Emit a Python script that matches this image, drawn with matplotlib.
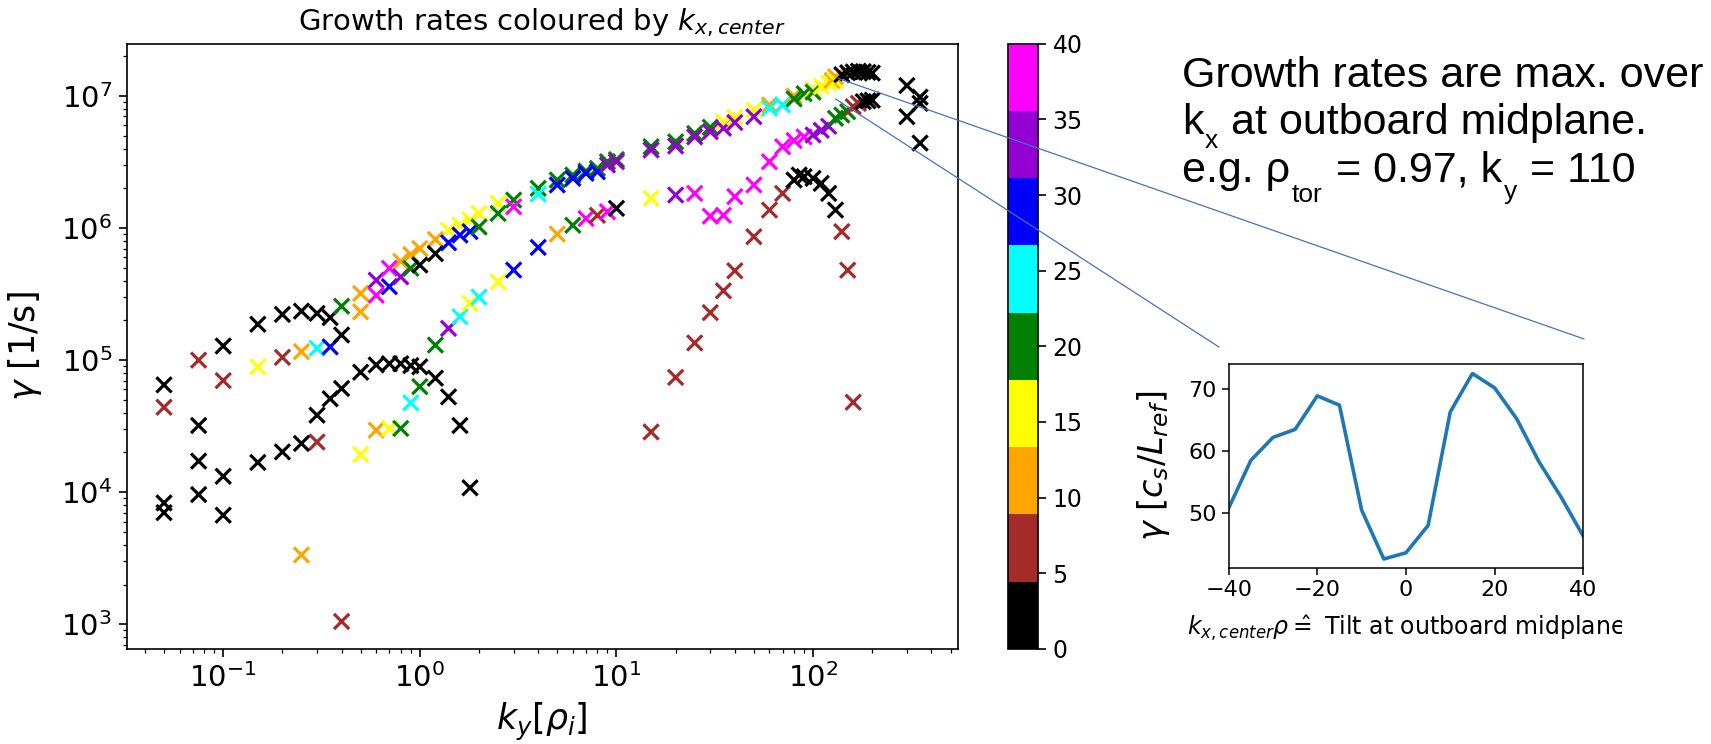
import numpy as np
import matplotlib.pyplot as plt
from matplotlib.colors import ListedColormap, Normalize
from matplotlib.patches import ConnectionPatch
from matplotlib.transforms import Bbox, TransformedBbox

# colour classes of kx_center, 0 ... 40 in steps of 5
kx_colours = ['black', 'brown', 'orange', 'yellow', 'green',
              'cyan', 'blue', 'darkviolet', 'magenta']
kx_ticks = [0, 5, 10, 15, 20, 25, 30, 35, 40]

# scattered modes at small ky
ky_left = [0.05, 0.05, 0.05, 0.05, 0.075, 0.075, 0.075, 0.075,
           0.1, 0.1, 0.1, 0.1, 0.15, 0.15, 0.2, 0.2, 0.25, 0.25, 0.25,
           0.3, 0.3, 0.3, 0.35, 0.35, 0.4, 0.4]
gam_left = [6.5e4, 4.4e4, 8.3e3, 7.0e3, 1.0e5, 3.2e4, 1.72e4, 9.6e3,
            1.28e5, 7.0e4, 1.32e4, 6.7e3, 8.9e4, 1.87e5, 2.22e5, 1.05e5,
            2.35e5, 1.16e5, 3.35e3, 2.26e5, 1.23e5, 2.4e4, 2.1e5, 1.26e5,
            1.55e5, 1.05e3]
kx_left = [0, 5, 0, 0, 5, 0, 0, 0, 0, 5, 0, 0, 15, 0, 0, 5, 0, 10, 10,
           0, 25, 5, 0, 30, 0, 5]

# low black branch
ky_hump0 = [0.15, 0.2, 0.25, 0.3, 0.35, 0.4, 0.5, 0.6, 0.7, 0.8, 0.9,
            1.0, 1.2, 1.4, 1.6, 1.8]
gam_hump0 = [1.68e4, 2.02e4, 2.34e4, 3.83e4, 5.1e4, 6.1e4, 8.1e4, 9.2e4,
             9.4e4, 9.4e4, 9.1e4, 8.9e4, 7.3e4, 5.27e4, 3.2e4, 1.08e4]
kx_hump0 = [0] * len(ky_hump0)

# main (fastest) branch
ky_upper = [0.4, 0.5, 0.5, 0.6, 0.6, 0.7, 0.7, 0.8, 0.8, 0.9, 0.9,
            1.0, 1.0, 1.2, 1.2, 1.4, 1.4, 1.6, 1.6, 1.8, 1.8, 2, 2,
            2.5, 2.5, 3, 3, 4, 4, 5, 5, 6, 6, 7, 7, 8, 8, 9, 9, 10, 10,
            15, 15, 20, 20, 25, 25, 30, 30, 35, 35, 40, 40, 50, 50,
            60, 60, 70, 80, 80, 90, 100, 100, 110, 120, 125, 130, 130]
gam_upper = [2.56e5, 3.2e5, 2.32e5, 4.03e5, 3.1e5, 4.96e5, 3.6e5,
             5.6e5, 4.27e5, 6.3e5, 4.96e5, 7.0e5, 5.25e5, 8.2e5, 6.4e5,
             9.65e5, 7.74e5, 1.05e6, 8.85e5, 1.15e6, 9.4e5, 1.29e6, 1.02e6,
             1.54e6, 1.29e6, 1.63e6, 1.45e6, 2.0e6, 1.81e6, 2.31e6, 2.12e6,
             2.52e6, 2.38e6, 2.7e6, 2.6e6, 2.83e6, 2.67e6, 3.18e6, 3.0e6,
             3.3e6, 3.18e6, 4.13e6, 3.9e6, 4.5e6, 4.18e6, 5.2e6, 4.9e6,
             5.8e6, 5.37e6, 6.38e6, 5.7e6, 6.9e6, 6.3e6, 7.83e6, 6.97e6,
             8.55e6, 8.07e6, 8.55e6, 1.0e7, 9.5e6, 1.04e7, 1.12e7, 1.07e7,
             1.18e7, 1.25e7, 1.31e7, 1.4e7, 1.3e7]
kx_upper = [20, 10, 10, 35, 40, 40, 30, 10, 35, 10, 20,
            10, 0, 10, 0, 15, 30, 15, 30, 15, 30, 15, 20,
            15, 20, 20, 40, 20, 25, 20, 30, 20, 30, 20, 30, 20, 30, 20, 35,
            20, 35, 20, 35, 20, 35, 20, 35, 20, 35, 15, 35, 15, 35, 15, 35,
            10, 25, 25, 10, 20, 20, 15, 20, 15, 15, 10, 10, 15]

# second branch
ky_lower = [0.5, 0.6, 0.7, 0.8, 0.9, 1.0, 1.2, 1.4, 1.6, 1.8, 2, 2.5,
            3, 4, 5, 6, 7, 8, 9, 10, 15, 20, 25, 30, 35, 40, 50, 60, 70,
            80, 90, 100, 110, 120, 130, 140, 150, 160, 170, 180, 190, 200]
gam_lower = [1.93e4, 2.95e4, 3.04e4, 3.04e4, 4.75e4, 6.3e4, 1.3e5,
             1.74e5, 2.13e5, 2.69e5, 3.0e5, 3.92e5, 4.81e5, 7.14e5, 9.0e5,
             1.05e6, 1.18e6, 1.25e6, 1.33e6, 1.41e6, 1.68e6, 1.78e6, 1.83e6,
             1.23e6, 1.25e6, 1.73e6, 2.12e6, 3.18e6, 4.13e6, 4.6e6, 4.9e6,
             5.07e6, 5.5e6, 5.9e6, 6.78e6, 7.17e6, 7.6e6, 8.3e6, 8.8e6,
             9.06e6, 9.2e6, 9.3e6]
kx_lower = [15, 10, 15, 20, 25, 20, 20, 35, 25, 15, 25, 15,
            30, 30, 10, 20, 40, 5, 40, 0, 15, 35, 40, 40, 40, 40, 40, 40, 40,
            40, 40, 35, 35, 35, 20, 20, 20, 5, 5, 0, 0, 0]

# brown branch at large ky
ky_hump5 = [15, 20, 25, 30, 35, 40, 50, 60, 70, 140, 150, 160]
gam_hump5 = [2.86e4, 7.4e4, 1.35e5, 2.29e5, 3.35e5, 4.75e5, 8.6e5,
             1.37e6, 1.83e6, 9.4e5, 4.8e5, 4.8e4]
kx_hump5 = [5] * len(ky_hump5)

# black branch at large ky
ky_hump_hi = [80, 85, 90, 100, 110, 120, 130]
gam_hump_hi = [2.31e6, 2.52e6, 2.45e6, 2.38e6, 2.18e6, 1.83e6, 1.37e6]
kx_hump_hi = [0] * len(ky_hump_hi)

# largest ky
ky_tail = [140, 150, 160, 170, 180, 190, 200, 300, 300, 350, 350, 350]
gam_tail = [1.45e7, 1.5e7, 1.52e7, 1.54e7, 1.53e7, 1.51e7, 1.49e7,
            1.2e7, 6.97e6, 9.8e6, 8.8e6, 4.4e6]
kx_tail = [0] * len(ky_tail)

branches = [(ky_left, gam_left, kx_left), (ky_hump0, gam_hump0, kx_hump0),
            (ky_upper, gam_upper, kx_upper), (ky_lower, gam_lower, kx_lower),
            (ky_hump5, gam_hump5, kx_hump5), (ky_hump_hi, gam_hump_hi, kx_hump_hi),
            (ky_tail, gam_tail, kx_tail)]

# growth rate vs. tilt at ky = 110
kx_tilt = [-40, -35, -30, -25, -20, -15, -10, -5, 0, 5, 10, 15, 20, 25, 30, 35, 40]
gam_tilt = [50.8, 58.5, 62.2, 63.5, 68.9, 67.4, 50.5, 42.6, 43.6, 48.0,
            66.3, 72.5, 70.2, 65.2, 58.3, 52.6, 46.3]

# where the zoom lines start (ky, gamma) and end (figure fraction)
zoom_from = [(134, 1.36e7), (130, 9.5e6)]
zoom_to = [(0.9258, 0.5444), (0.7124, 0.5336)]

# note text, pieces as (text, subscript drop in px; 0 = normal text)
note_lines = [
    [("Growth rates are max. over", 0)],
    [("k", 0), ("x", 14), ("at outboard midplane.", 0)],
    [("e.g. ρ", 0), ("tor", 20), ("= 0.97, k", 0), ("y", 17), ("= 110", 0)],
]

W, H = 1711, 744
fig = plt.figure(figsize=(W / 100, H / 100), dpi=100)

ax = fig.add_axes([0.07405, 0.1277, 0.4856, 0.8136])
cmap = ListedColormap(kx_colours)
norm = Normalize(vmin=0, vmax=40)
for ky, gam, kx in branches:
    sc = ax.scatter(ky, gam, c=kx, cmap=cmap, norm=norm, marker='x',
                    s=120, linewidths=2.3)
ax.set_xscale('log')
ax.set_yscale('log')
ax.set_xlim(0.0323, 543)
ax.set_ylim(650, 2.49e7)
ax.set_title(r'Growth rates coloured by $k_{x, center}$', fontsize=21, pad=10)
ax.set_xlabel(r'$k_y[\rho_i]$', fontsize=25)
ax.set_ylabel(r'$\gamma$ [1/s]', fontsize=25)
ax.xaxis.set_label_coords(0.5, -0.085)
ax.yaxis.set_label_coords(-0.1, 0.5)
ax.tick_params(which='major', labelsize=21, length=5.5, width=1.2, pad=5)
ax.tick_params(which='minor', length=3.2, width=0.9)
for sp in ax.spines.values():
    sp.set_linewidth(1.2)

cax = fig.add_axes([0.5891, 0.1277, 0.01753, 0.8136])
cb = fig.colorbar(sc, cax=cax, ticks=kx_ticks)
cb.ax.tick_params(labelsize=17, length=5.5, width=1.2, pad=5)
cb.outline.set_linewidth(1.2)

# inset: gamma over kx_center
axi = fig.add_axes([0.7181, 0.2362, 0.2072, 0.2742])
axi.plot(kx_tilt, gam_tilt, color='tab:blue', lw=2.6)
axi.set_xlim(-40, 40)
axi.set_xticks([-40, -20, 0, 20, 40])
axi.set_yticks([50, 60, 70])
axi.tick_params(labelsize=16, length=4.8, width=1.1, pad=4)
for sp in axi.spines.values():
    sp.set_linewidth(1.1)
axi.set_ylabel(r'$\gamma\ [c_s/L_{ref}]$', fontsize=24)
axi.yaxis.set_label_coords(-0.16, 0.5)
xl = axi.set_xlabel(r'$k_{x,center}\rho \hat{=}$ Tilt at outboard midplane',
                    fontsize=17)
axi.xaxis.set_label_coords(0.5, -0.22)
# the label runs off the right of the inset picture
xl.set_clip_box(TransformedBbox(Bbox([[0, 0], [1622 / W, 1]]), fig.transFigure))
xl.set_clip_on(True)

for (xa, ya), xyb in zip(zoom_from, zoom_to):
    con = ConnectionPatch(xyA=(xa, ya), coordsA='data', axesA=ax,
                          xyB=xyb, coordsB='figure fraction',
                          color='#4472c4', lw=0.9)
    fig.add_artist(con)

# note lines, subscripts placed piece by piece
renderer = fig.canvas.get_renderer()
for i, pieces in enumerate(note_lines):
    base = 657.3 - 47.5 * i
    x = 1181.7
    prev_sub = None
    for txt, drop in pieces:
        sub = drop > 0
        if prev_sub is not None:
            x += 2 if sub else 13
        t = fig.text(x / W, (base - drop) / H, txt, fontsize=19 if sub else 31,
                     family='Liberation Sans', va='baseline')
        x = t.get_window_extent(renderer).x1
        prev_sub = sub

fig.savefig('out.png', dpi=100)
